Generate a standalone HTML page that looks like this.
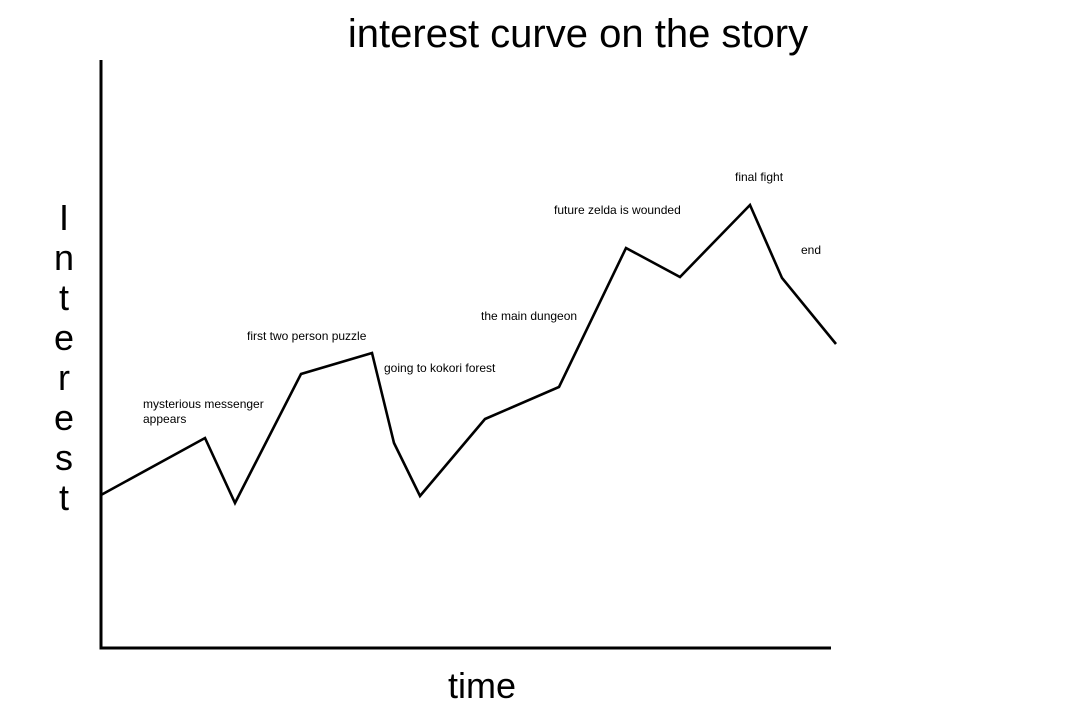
<!DOCTYPE html>
<html><head><meta charset="utf-8"><style>
html,body{margin:0;padding:0;background:#fff;}
svg{display:block;}
text{font-family:"Liberation Sans","DejaVu Sans",sans-serif;fill:#000;}
</style></head><body>
<svg id="chart" width="1080" height="720" viewBox="0 0 1080 720">
<rect width="1080" height="720" fill="#fff"/>
<text x="578" y="47" font-size="40" text-anchor="middle">interest curve on the story</text>
<text x="482" y="698" font-size="36" text-anchor="middle">time</text>
<g id="ytitle"></g>
<line x1="101" y1="60" x2="101" y2="649.5" stroke="#000" stroke-width="3"/>
<line x1="99.5" y1="648" x2="831" y2="648" stroke="#000" stroke-width="3"/>
<polyline id="curve" fill="none" stroke="#000" stroke-width="2.6" stroke-linejoin="miter"/>
<g id="labels"></g>
</svg>
<script>
const times = [0,104,134,200,271,293,319,384,458,525,579,649,681,735];
const interest = [153,210,145,274,295,205,152,229,261,400,371,443,370,304];
const annotationText = ["mysterious messenger|appears","first two person puzzle","going to kokori forest","the main dungeon","future zelda is wounded","final fight","end"];
const annotationTime = [42,146,283,380,453,634,700];
const annotationValue = [240,308,276,328,434,467,394];
const yTitleLetters = ["I","n","t","e","r","e","s","t"];

const NS="http://www.w3.org/2000/svg";
function xs(t){return 101+t;}
function ys(v){return 648-v;}
const curve=document.getElementById('curve');
curve.setAttribute('points',times.map((t,i)=>xs(t)+','+ys(interest[i])).join(' '));
const lg=document.getElementById('labels');
annotationText.forEach((s,i)=>{
  s.split('|').forEach((line,j)=>{
    const tx=document.createElementNS(NS,'text');
    
    
    tx.setAttribute('x',xs(annotationTime[i]));
    tx.setAttribute('y',ys(annotationValue[i])+j*15);
    tx.setAttribute('font-size','12');
    tx.textContent=line;
    lg.appendChild(tx);
  });
});
const yt=document.getElementById('ytitle');
yTitleLetters.forEach((c,i)=>{
  const tx=document.createElementNS(NS,'text');
  
  
  tx.setAttribute('x',64);
  tx.setAttribute('y',230+i*40);
  tx.setAttribute('font-size','36');
  tx.setAttribute('text-anchor','middle');
  tx.textContent=c;
  yt.appendChild(tx);
});
</script>
</body></html>
